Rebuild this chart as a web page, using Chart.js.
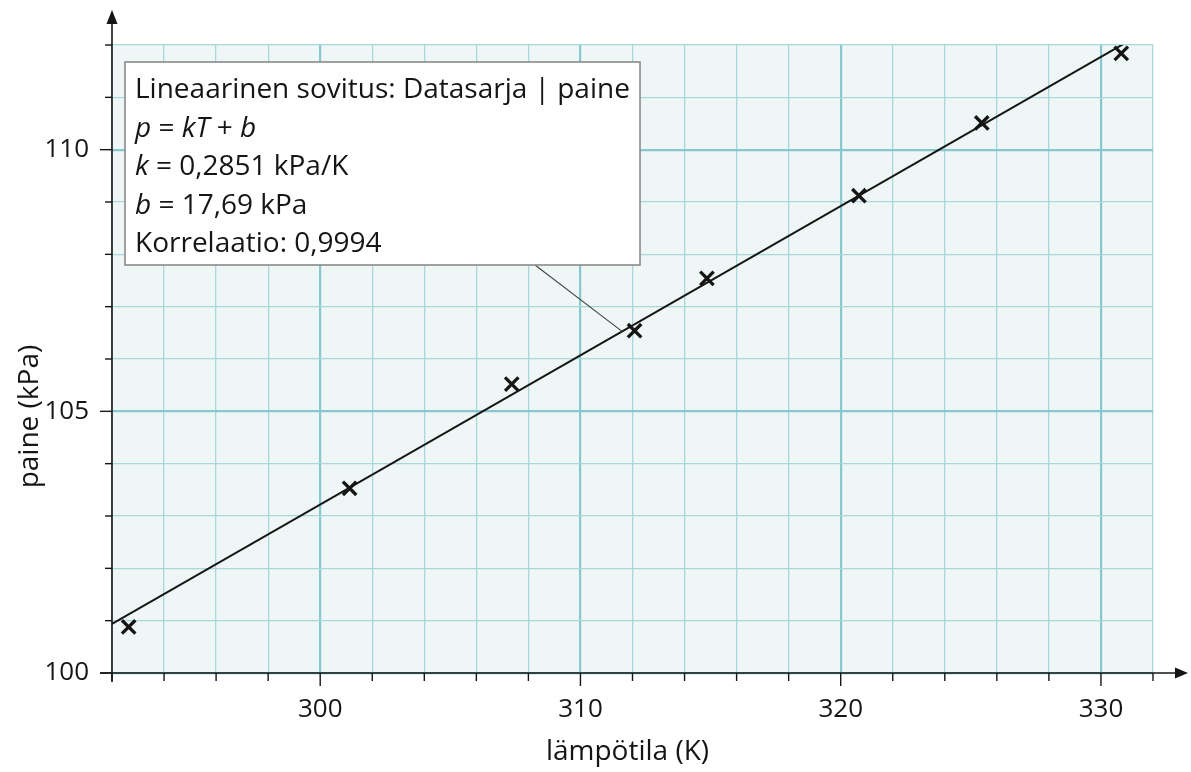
<!DOCTYPE html>
<html>
<head>
<meta charset="utf-8">
<script src="https://cdn.jsdelivr.net/npm/chart.js@4.4.1/dist/chart.umd.min.js"></script>
<style>
  html, body { margin: 0; padding: 0; background: #fff; }
  #wrap { width: 1191px; height: 772px; }
</style>
</head>
<body>
<div id="wrap"><canvas id="chart" width="1191" height="772"></canvas></div>
<script>
// measured temperature (K) and pressure (kPa)
const temps = [292.64, 301.13, 307.36, 312.08, 314.86, 320.70, 325.42, 330.78];
const pressures = [100.88, 103.53, 105.52, 106.54, 107.54, 109.12, 110.51, 111.84];

// linear fit p = kT + b
const fitK = 0.2851;
const fitB = 17.69;
const fitR = 0.9994;

const xRange = [292, 332];
const yRange = [100, 112];
const xTickLabels = [300, 310, 320, 330];
const yTickLabels = [100, 105, 110];

const xTitle = 'lämpötila (K)';
const yTitle = 'paine (kPa)';

const fi = v => String(v).replace('.', ',');
const boxLines = [
  [['Lineaarinen sovitus: Datasarja | paine', false]],
  [['p', true], [' = ', false], ['kT', true], [' + ', false], ['b', true]],
  [['k', true], [' = ' + fi(fitK.toFixed(4)) + ' kPa/K', false]],
  [['b', true], [' = ' + fi(fitB.toFixed(2)) + ' kPa', false]],
  [['Korrelaatio: ' + fi(fitR.toFixed(4)), false]]
];

const FAMILY = '"Open Sans", "Noto Sans", sans-serif';
const TICK_SIZE = 26;
const TEXT_SIZE = 28;
const INK = '#151515';

const gridMinor = '#a9d7dc';
const gridMajor = '#86c8ce';

const fitData = xRange.map(t => ({ x: t, y: fitK * t + fitB }));
const points = temps.map((t, i) => ({ x: t, y: pressures[i] }));

const plotBackground = {
  id: 'plotBackground',
  beforeDraw(chart) {
    const { ctx, chartArea: a } = chart;
    ctx.save();
    ctx.fillStyle = '#eff6f6';
    ctx.fillRect(a.left, a.top, a.right - a.left, a.bottom - a.top);
    ctx.restore();
  }
};

// axis lines with arrows, tick marks, axis titles, fit annotation
const decorations = {
  id: 'decorations',
  afterDraw(chart) {
    const { ctx, chartArea: a, scales } = chart;
    const xs = scales.x, ys = scales.y;
    ctx.save();
    ctx.strokeStyle = INK;
    ctx.fillStyle = INK;
    ctx.lineWidth = 1.6;

    // x axis
    ctx.beginPath();
    ctx.moveTo(a.left - 12, a.bottom);
    ctx.lineTo(a.right + 24, a.bottom);
    ctx.stroke();
    ctx.beginPath();
    ctx.moveTo(a.right + 35, a.bottom);
    ctx.lineTo(a.right + 22, a.bottom - 5.5);
    ctx.lineTo(a.right + 22, a.bottom + 5.5);
    ctx.closePath();
    ctx.fill();

    // y axis
    ctx.beginPath();
    ctx.moveTo(a.left, a.bottom + 9);
    ctx.lineTo(a.left, a.top - 22);
    ctx.stroke();
    ctx.beginPath();
    ctx.moveTo(a.left, a.top - 35);
    ctx.lineTo(a.left - 5.5, a.top - 21);
    ctx.lineTo(a.left + 5.5, a.top - 21);
    ctx.closePath();
    ctx.fill();

    // tick marks
    ctx.lineWidth = 1.4;
    xs.ticks.forEach(t => {
      const px = xs.getPixelForValue(t.value);
      const len = xTickLabels.includes(t.value) ? 13 : 8;
      ctx.beginPath();
      ctx.moveTo(px, a.bottom);
      ctx.lineTo(px, a.bottom + len);
      ctx.stroke();
    });
    ys.ticks.forEach(t => {
      const py = ys.getPixelForValue(t.value);
      const len = yTickLabels.includes(t.value) ? 12 : 7;
      ctx.beginPath();
      ctx.moveTo(a.left, py);
      ctx.lineTo(a.left - len, py);
      ctx.stroke();
    });

    // axis titles
    ctx.font = TEXT_SIZE + 'px ' + FAMILY;
    ctx.textAlign = 'center';
    ctx.textBaseline = 'middle';
    ctx.fillText(xTitle, (a.left + a.right) / 2 - 5, 752);
    ctx.save();
    ctx.translate(30, ys.getPixelForValue(104.9));
    ctx.rotate(-Math.PI / 2);
    ctx.fillText(yTitle, 0, 0);
    ctx.restore();

    // annotation box with leader to the fit line
    const bx = a.left + 13, by = a.top + 17, bw = 515, bh = 203;
    const tAnchor = 311.6;
    ctx.strokeStyle = '#444';
    ctx.lineWidth = 1.1;
    ctx.beginPath();
    ctx.moveTo(bx + 410, by + bh);
    ctx.lineTo(xs.getPixelForValue(tAnchor), ys.getPixelForValue(fitK * tAnchor + fitB));
    ctx.stroke();

    ctx.fillStyle = '#fff';
    ctx.fillRect(bx, by, bw, bh);
    ctx.strokeStyle = '#8a8a8a';
    ctx.lineWidth = 1.6;
    ctx.strokeRect(bx, by, bw, bh);

    ctx.fillStyle = INK;
    ctx.textAlign = 'left';
    ctx.textBaseline = 'alphabetic';
    boxLines.forEach((segs, i) => {
      let x = bx + 10;
      const y = by + 36 + i * 38.6;
      segs.forEach(([txt, ital]) => {
        ctx.font = (ital ? 'italic ' : '') + TEXT_SIZE + 'px ' + FAMILY;
        ctx.fillText(txt, x, y);
        x += ctx.measureText(txt).width;
      });
    });
    ctx.restore();
  }
};

const tickFont = { family: FAMILY, size: TICK_SIZE };

new Chart(document.getElementById('chart').getContext('2d'), {
  type: 'scatter',
  data: {
    datasets: [
      {
        type: 'line',
        label: 'sovitus',
        data: fitData,
        borderColor: INK,
        borderWidth: 2,
        pointRadius: 0,
        fill: false,
        order: 2
      },
      {
        label: 'paine',
        data: points,
        pointStyle: 'crossRot',
        pointRadius: 9.5,
        borderColor: INK,
        borderWidth: 3.3,
        order: 1
      }
    ]
  },
  options: {
    responsive: false,
    animation: false,
    events: [],
    layout: { padding: { top: 45, right: 38, left: 0, bottom: 0 } },
    plugins: {
      legend: { display: false },
      tooltip: { enabled: false }
    },
    scales: {
      x: {
        type: 'linear',
        min: xRange[0],
        max: xRange[1],
        border: { display: false },
        grid: {
          drawTicks: false,
          color: c => xTickLabels.includes(c.tick.value) ? gridMajor : gridMinor,
          lineWidth: c => xTickLabels.includes(c.tick.value) ? 2.2 : 1.3
        },
        ticks: {
          stepSize: 2,
          autoSkip: false,
          maxRotation: 0,
          padding: 21,
          color: INK,
          font: tickFont,
          callback: v => xTickLabels.includes(v) ? String(v) : ''
        },
        afterFit: s => { s.height = 99; }
      },
      y: {
        type: 'linear',
        min: yRange[0],
        max: yRange[1],
        border: { display: false },
        grid: {
          drawTicks: false,
          color: c => yTickLabels.includes(c.tick.value) ? gridMajor : gridMinor,
          lineWidth: c => yTickLabels.includes(c.tick.value) ? 2.2 : 1.3
        },
        ticks: {
          stepSize: 1,
          autoSkip: false,
          padding: 23,
          color: INK,
          font: tickFont,
          callback: v => yTickLabels.includes(v) ? String(v) : ''
        },
        afterFit: s => { s.width = 112; }
      }
    }
  },
  plugins: [plotBackground, decorations]
});
</script>
</body>
</html>
